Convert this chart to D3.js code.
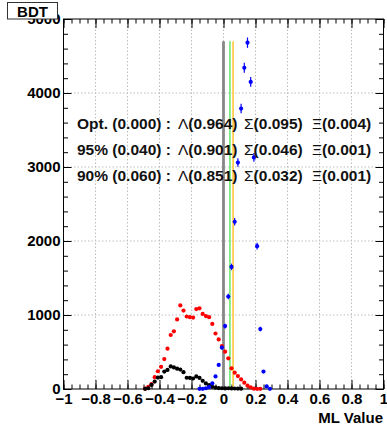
<!DOCTYPE html>
<html><head><meta charset="utf-8">
<script src="https://cdn.jsdelivr.net/npm/d3@7"></script>
<style>
body{margin:0;background:#fff;}
text{font-family:"Liberation Sans",Arial,sans-serif;font-weight:bold;}
</style></head>
<body><svg id="c" width="387" height="429"></svg>
<script>
// ---- data ----
const redX = [-0.49,-0.47,-0.45,-0.43,-0.41,-0.39,-0.37,-0.35,-0.33,-0.31,-0.29,-0.27,-0.25,-0.23,-0.21,-0.19,-0.17,-0.15,-0.13,-0.11,-0.09,-0.07,-0.05,-0.03,-0.01,0.01,0.03,0.05,0.07,0.09,0.11,0.13,0.15,0.17,0.19,0.21,0.23];
const redY = [5,30,65,160,240,300,405,545,730,780,940,1130,1060,980,970,965,1080,1090,1015,985,970,880,750,670,580,505,415,280,220,175,130,85,45,22,5,2,2];
const blackX = [-0.49,-0.47,-0.45,-0.43,-0.41,-0.39,-0.37,-0.35,-0.33,-0.31,-0.29,-0.27,-0.25,-0.23,-0.21,-0.19,-0.17,-0.15,-0.13,-0.11,-0.09,-0.07,-0.05,-0.03,-0.01,0.01,0.03,0.05,0.07,0.09,0.11];
const blackY = [2,10,55,100,155,160,235,258,305,292,275,262,228,152,150,142,170,150,110,75,52,30,18,12,10,8,10,8,7,6,5];
const blueX = [-0.15,-0.13,-0.11,-0.09,-0.07,-0.05,-0.03,-0.01,0.01,0.03,0.05,0.07,0.09,0.11,0.13,0.15,0.17,0.19,0.21,0.23,0.25,0.27,0.29];
const blueY = [2,3,10,25,77,170,325,560,850,1250,1650,2260,3060,3790,4340,4680,4150,3130,1930,810,235,35,3];
const blueErr = [2,2,4,6,10,14,20,26,32,38,44,50,58,64,68,70,66,58,46,30,16,6,2];
const cutValues = [0.000, 0.040, 0.060];
const cutColors = ["#878787", "#6ee86e", "#ffc83a"];
const cutWidths = [2.8, 1.6, 1.6];
const cutTop = 4700;
const xTicks = [-1,-0.8,-0.6,-0.4,-0.2,0,0.2,0.4,0.6,0.8,1];
const xTickLabels = ["\u22121","\u22120.8","\u22120.6","\u22120.4","\u22120.2","0","0.2","0.4","0.6","0.8","1"];
const yTicks = [0,1000,2000,3000,4000,5000];
const yTickLabels = ["0","1000","2000","3000","4000","5000"];
const rowLabels = ["Opt. (0.000) :","95% (0.040) :","90% (0.060) :"];
const lambdaVals = ["(0.964)","(0.901)","(0.851)"];
const sigmaVals = ["(0.095)","(0.046)","(0.032)"];
const xiVals = ["(0.004)","(0.001)","(0.001)"];
const title = "BDT";
const xTitle = "ML Value";

// ---- layout ----
const L=63.5, R=383.5, T=19, B=389;
const x = d3.scaleLinear().domain([-1,1]).range([L,R]);
const y = d3.scaleLinear().domain([0,5000]).range([B,T]);
const svg = d3.select("#c");

// grid
const g = svg.append("g");
g.selectAll("line.gx").data(xTicks.slice(1,-1)).join("line")
  .attr("x1",d=>x(d)).attr("x2",d=>x(d)).attr("y1",T).attr("y2",B)
  .attr("stroke","#bdbdbd").attr("stroke-dasharray","1.5,2").attr("stroke-width",1);
g.selectAll("line.gy").data(yTicks.slice(1,-1)).join("line")
  .attr("x1",L).attr("x2",R).attr("y1",d=>y(d)).attr("y2",d=>y(d))
  .attr("stroke","#bdbdbd").attr("stroke-dasharray","1.5,2").attr("stroke-width",1);

// minor ticks
const xMinor = d3.range(-1,1.0001,0.05).map(v=>+v.toFixed(2));
const yMinor = d3.range(0,5001,200);
function noLab(a){return a.tickFormat("");}
svg.append("g").attr("transform",`translate(0,${B})`).call(noLab(d3.axisBottom(x).tickValues(xMinor).tickSize(-4.5).tickSizeOuter(0)));
svg.append("g").attr("transform",`translate(0,${T})`).call(noLab(d3.axisTop(x).tickValues(xMinor).tickSize(-4.5).tickSizeOuter(0)));
svg.append("g").attr("transform",`translate(${L},0)`).call(noLab(d3.axisLeft(y).tickValues(yMinor).tickSize(-4.5).tickSizeOuter(0)));
svg.append("g").attr("transform",`translate(${R},0)`).call(noLab(d3.axisRight(y).tickValues(yMinor).tickSize(-4.5).tickSizeOuter(0)));
// major ticks + labels
svg.append("g").attr("transform",`translate(0,${B})`)
  .call(d3.axisBottom(x).tickValues(xTicks).tickSize(-9).tickSizeOuter(0).tickPadding(4).tickFormat((d,i)=>xTickLabels[i]));
svg.append("g").attr("transform",`translate(${L},0)`)
  .call(d3.axisLeft(y).tickValues(yTicks).tickSize(-8).tickSizeOuter(0).tickPadding(3).tickFormat((d,i)=>yTickLabels[i]));
svg.append("g").attr("transform",`translate(0,${T})`).call(noLab(d3.axisTop(x).tickValues(xTicks).tickSize(-9).tickSizeOuter(0)));
svg.append("g").attr("transform",`translate(${R},0)`).call(noLab(d3.axisRight(y).tickValues(yTicks).tickSize(-8).tickSizeOuter(0)));
svg.selectAll(".domain").remove();
svg.selectAll(".tick line").attr("stroke","#000");
svg.selectAll(".tick text").attr("font-size",15).attr("font-weight","bold").attr("fill","#000")
  .attr("font-family","Liberation Sans, Arial, sans-serif");

// frame
svg.append("rect").attr("x",L).attr("y",T).attr("width",R-L).attr("height",B-T)
  .attr("fill","none").attr("stroke","#000").attr("stroke-width",1);

// cut lines
svg.selectAll("line.cut").data(cutValues).join("line")
  .attr("x1",d=>x(d)).attr("x2",d=>x(d)).attr("y1",y(cutTop)).attr("y2",B)
  .attr("stroke",(d,i)=>cutColors[i]).attr("stroke-width",(d,i)=>cutWidths[i]);

// series
function dots(xs,ys,col){
  svg.append("g").selectAll("circle").data(xs).join("circle")
    .attr("cx",d=>x(d)).attr("cy",(d,i)=>y(ys[i])).attr("r",2.1).attr("fill",col);
}
dots(redX,redY,"#ff0000");
dots(blackX,blackY,"#000000");
svg.append("g").selectAll("line").data(blueX).join("line")
  .attr("x1",d=>x(d)).attr("x2",d=>x(d))
  .attr("y1",(d,i)=>y(blueY[i]+blueErr[i])).attr("y2",(d,i)=>y(Math.max(0,blueY[i]-blueErr[i])))
  .attr("stroke","#0000ff").attr("stroke-width",1.2);
dots(blueX,blueY,"#0000ff");

// annotation rows
const rowY = [129,155,181];
const tg = svg.append("g").attr("font-size",15.5).attr("fill","#111");
rowLabels.forEach((r,i)=>{
  tg.append("text").attr("x",77).attr("y",rowY[i]).text(r);
  const t1 = tg.append("text").attr("x",178).attr("y",rowY[i]);
  t1.append("tspan").attr("font-weight","normal").text("\u039B"); t1.append("tspan").text(lambdaVals[i]);
  const t2 = tg.append("text").attr("x",244).attr("y",rowY[i]);
  t2.append("tspan").attr("font-weight","normal").text("\u03A3"); t2.append("tspan").text(sigmaVals[i]);
  const t3 = tg.append("text").attr("x",312).attr("y",rowY[i]);
  t3.append("tspan").attr("font-weight","normal").text("\u039E"); t3.append("tspan").text(xiVals[i]);
});

// axis title
svg.append("text").attr("x",383).attr("y",423).attr("text-anchor","end").attr("font-size",15).text(xTitle);

// title box
svg.append("rect").attr("x",7.5).attr("y",2.5).attr("width",50).attr("height",16.5)
  .attr("fill","#fff").attr("stroke","#333").attr("stroke-width",1);
svg.append("text").attr("x",32.5).attr("y",16.5).attr("text-anchor","middle").attr("font-size",15).text(title);
</script></body></html>
